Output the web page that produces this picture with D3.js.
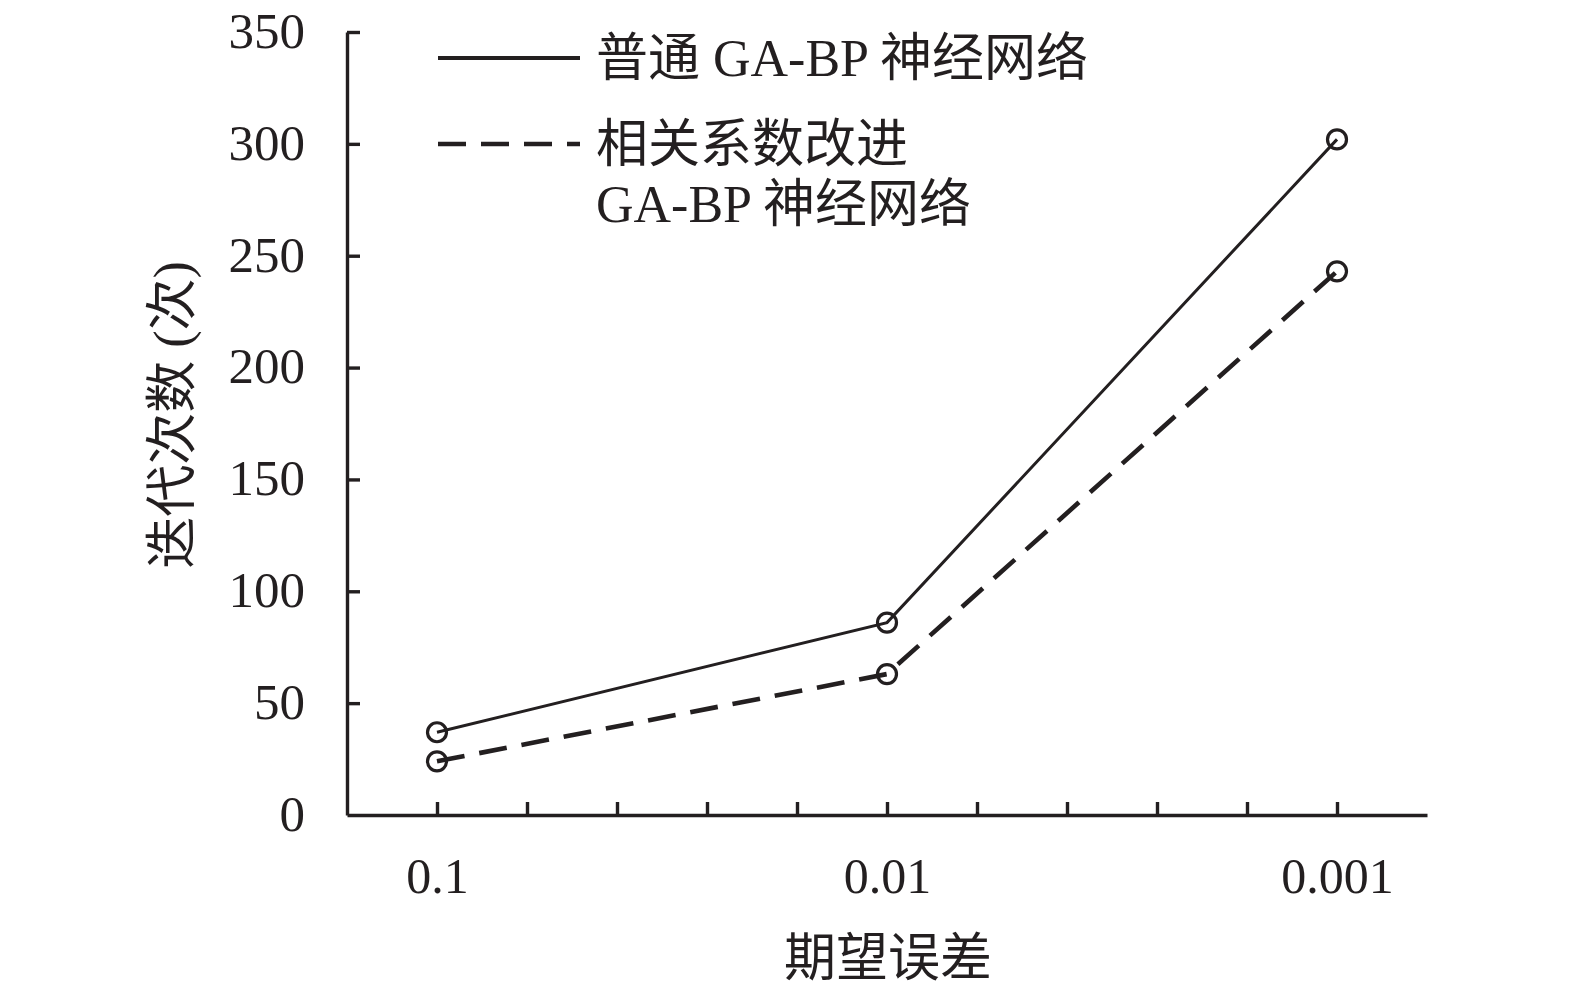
<!DOCTYPE html>
<html>
<head>
<meta charset="utf-8">
<script src="https://cdn.jsdelivr.net/npm/d3@7"></script>
<style>
  body { margin: 0; background: #fff; }
  text { fill: #231f20; }
</style>
</head>
<body>
<div id="grafico"></div>
<script>
// dados
const categorias = ['0.1', '0.01', '0.001'];
const posicoes = [1, 6, 11];          // posição de cada categoria no eixo x
const serieComum = [37, 86, 302];     // 普通 GA-BP 神经网络
const serieMelhorada = [24, 63, 243]; // 相关系数改进 GA-BP 神经网络
const ticksY = [0, 50, 100, 150, 200, 250, 300, 350];

const fonteNum = '"Liberation Serif", "Times New Roman", serif';
const fonteCJK = '"Liberation Serif", "Noto Sans CJK SC", serif';
const cor = '#231f20';

// configurações
let margin = { top: 32, right: 148, bottom: 175, left: 347 };
let width = 1575 - margin.left - margin.right;
let height = 990 - margin.top - margin.bottom;

let svg = d3.select('#grafico').append('svg')
    .attr('width', 1575)
    .attr('height', 990)
    .append('g')
    .attr('transform', `translate(${margin.left}, ${margin.top})`);

// escalas
let x = d3.scaleLinear().domain([0, 12]).range([0, width]);
let y = d3.scaleLinear().domain([0, 350]).range([height, 0]);

// eixo x
let eixoX = svg.append('g')
    .attr('transform', `translate(0, ${height})`)
    .call(d3.axisBottom(x)
        .tickValues(d3.range(1, 12))
        .tickSize(-13)
        .tickSizeOuter(0)
        .tickFormat(d => {
            let i = posicoes.indexOf(d);
            return i >= 0 ? categorias[i] : '';
        }));
eixoX.select('.domain').attr('stroke', cor).attr('stroke-width', 3.4);
eixoX.selectAll('.tick line').attr('stroke', cor).attr('stroke-width', 3.4);
eixoX.selectAll('.tick text')
    .attr('y', 78)
    .attr('dy', 0)
    .style('font-family', fonteNum)
    .style('font-size', '50px')
    .attr('fill', cor);

// eixo y
let eixoY = svg.append('g')
    .call(d3.axisLeft(y)
        .tickValues(ticksY)
        .tickSize(-13)
        .tickSizeOuter(0)
        .tickPadding(42));
eixoY.select('.domain').attr('stroke', cor).attr('stroke-width', 3.4);
eixoY.selectAll('.tick line').attr('stroke', cor).attr('stroke-width', 3.4);
eixoY.selectAll('.tick text')
    .attr('dy', '0.3em')
    .style('font-family', fonteNum)
    .style('font-size', '51px')
    .attr('fill', cor);
eixoY.selectAll('.tick').filter(d => d === 0).select('line').remove();

// linhas
let linha = d3.line()
    .x((d, i) => x(posicoes[i]))
    .y(d => y(d));

svg.append('path')
    .datum(serieComum)
    .attr('d', linha)
    .attr('fill', 'none')
    .attr('stroke', cor)
    .attr('stroke-width', 3);

svg.append('path')
    .datum(serieMelhorada)
    .attr('d', linha)
    .attr('fill', 'none')
    .attr('stroke', cor)
    .attr('stroke-width', 4.6)
    .attr('stroke-dasharray', '28 15');

// marcadores
[serieComum, serieMelhorada].forEach(serie => {
    svg.append('g').selectAll('circle')
        .data(serie)
        .join('circle')
        .attr('cx', (d, i) => x(posicoes[i]))
        .attr('cy', d => y(d))
        .attr('r', 9.5)
        .attr('fill', 'none')
        .attr('stroke', cor)
        .attr('stroke-width', 3.2);
});

// legenda
let legenda = svg.append('g').attr('transform', `translate(${438 - margin.left}, ${58 - margin.top})`);
legenda.append('line')
    .attr('x1', 0).attr('x2', 142).attr('y1', 0).attr('y2', 0)
    .attr('stroke', cor).attr('stroke-width', 3.8);
legenda.append('text')
    .attr('x', 158).attr('y', 0).attr('dy', '0.35em')
    .style('font-family', fonteCJK).style('font-size', '52px')
    .text('普通 GA-BP 神经网络');
legenda.append('line')
    .attr('x1', 0).attr('x2', 142).attr('y1', 86).attr('y2', 86)
    .attr('stroke', cor).attr('stroke-width', 4.6)
    .attr('stroke-dasharray', '28 15');
legenda.append('text')
    .attr('x', 158).attr('y', 86).attr('dy', '0.35em')
    .style('font-family', fonteCJK).style('font-size', '52px')
    .text('相关系数改进');
legenda.append('text')
    .attr('x', 158).attr('y', 146).attr('dy', '0.35em')
    .style('font-family', fonteCJK).style('font-size', '52px')
    .text('GA-BP 神经网络');

// títulos dos eixos
svg.append('text')
    .attr('transform', `translate(${width / 2 + 1}, ${height + 143})`)
    .attr('dy', '0.35em')
    .style('text-anchor', 'middle')
    .style('font-family', fonteCJK)
    .style('font-size', '52px')
    .text('期望误差');

svg.append('text')
    .attr('transform', 'rotate(-90)')
    .attr('x', -(415 - margin.top))
    .attr('y', 172 - margin.left)
    .attr('dy', '0.35em')
    .style('text-anchor', 'middle')
    .style('font-family', fonteCJK)
    .style('font-size', '52px')
    .text('迭代次数 (次)');
</script>
</body>
</html>
